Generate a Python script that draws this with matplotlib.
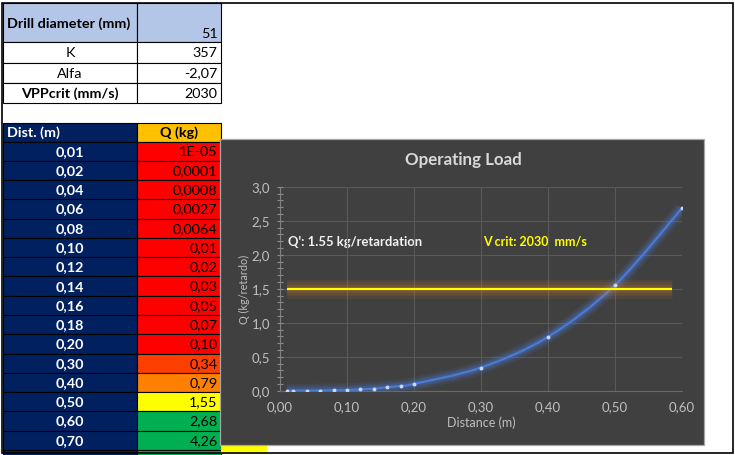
import matplotlib
matplotlib.use("Agg")
import matplotlib.pyplot as plt
import numpy as np
from matplotlib.patches import Rectangle, PathPatch
from matplotlib.path import Path
from matplotlib.ticker import FuncFormatter, MultipleLocator

plt.rcParams['font.family'] = ['Lato', 'DejaVu Sans']

# parameters block
param_labels = ["Drill diameter (mm)", "K", "Alfa", "VPPcrit (mm/s)"]
param_values = ["51", "357", "-2,07", "2030"]
param_bold = [True, False, False, True]

# distance / load table
dist = [0.01, 0.02, 0.04, 0.06, 0.08, 0.10, 0.12, 0.14, 0.16, 0.18, 0.20, 0.30, 0.40, 0.50, 0.60, 0.70]
q_kg = [1e-5, 0.0001, 0.0008, 0.0027, 0.0064, 0.01, 0.02, 0.03, 0.05, 0.07, 0.10, 0.34, 0.79, 1.55, 2.68, 4.26]
q_labels = ["1E-05", "0,0001", "0,0008", "0,0027", "0,0064", "0,01", "0,02", "0,03",
            "0,05", "0,07", "0,10", "0,34", "0,79", "1,55", "2,68", "4,26"]
q_colors = ["#FF0000"] * 11 + ["#FF3F00", "#FF8000", "#FFFF00", "#00B050", "#00B050"]

# chart series (rows up to 0,60)
n_chart = 15
vcrit_x = [0.01, 0.585]
vcrit_q = 1.5
x_ticks = [0.0, 0.1, 0.2, 0.3, 0.4, 0.5, 0.6]
y_ticks = [0.0, 0.5, 1.0, 1.5, 2.0, 2.5, 3.0]

W, H = 735, 455
fig = plt.figure(figsize=(W / 100, H / 100), dpi=100)
bg = fig.add_axes([0, 0, 1, 1])
bg.set_xlim(0, W)
bg.set_ylim(H, 0)
bg.axis('off')

# --- spreadsheet cells ---
cx0, cx1, cx2 = 2.7, 137.3, 220.7
top_edges = [2.7, 42.3, 62.7, 83.3, 103.3]
fs = 10.4
lw_cell = 0.8

for i, (lab, val) in enumerate(zip(param_labels, param_values)):
    y0, y1 = top_edges[i], top_edges[i + 1]
    fc = "#B4C6E7" if i == 0 else "white"
    bg.add_patch(Rectangle((cx0, y0), cx1 - cx0, y1 - y0, fc=fc, ec="black", lw=lw_cell))
    bg.add_patch(Rectangle((cx1, y0), cx2 - cx1, y1 - y0, fc=fc, ec="black", lw=lw_cell))
    w = 'bold' if param_bold[i] else 'normal'
    if i == 0:
        bg.text(cx0 + 4, (y0 + y1) / 2 + 1, lab, ha='left', va='center', fontsize=fs, fontweight=w)
        bg.text(cx2 - 3, y1 - 8, val, ha='right', va='center', fontsize=fs)
    else:
        bg.text((cx0 + cx1) / 2, (y0 + y1) / 2 + 0.5, lab, ha='center', va='center', fontsize=fs, fontweight=w)
        bg.text(cx2 - 3, (y0 + y1) / 2 + 0.5, val, ha='right', va='center', fontsize=fs)

# header row
hy0, hy1 = 122.7, 141.6
bg.add_patch(Rectangle((cx0, hy0), cx1 - cx0, hy1 - hy0, fc="#002060", ec="black", lw=lw_cell))
bg.add_patch(Rectangle((cx1, hy0), cx2 - cx1, hy1 - hy0, fc="#FFC000", ec="black", lw=lw_cell))
bg.text(cx0 + 4, (hy0 + hy1) / 2 + 0.5, "Dist. (m)", ha='left', va='center', fontsize=fs,
        fontweight='bold', color='white')
bg.text((cx1 + cx2) / 2, (hy0 + hy1) / 2 + 0.5, "Q (kg)", ha='center', va='center', fontsize=fs,
        fontweight='bold', color='black')

rh = 19.27
for i, (d, lab, col) in enumerate(zip(dist, q_labels, q_colors)):
    y0 = hy1 + i * rh
    bg.add_patch(Rectangle((cx0, y0), cx1 - cx0, rh, fc="#002060", ec="black", lw=lw_cell))
    bg.add_patch(Rectangle((cx1, y0), cx2 - cx1, rh, fc=col, ec="black", lw=lw_cell))
    bg.text((cx0 + cx1) / 2, y0 + rh / 2 + 0.5, f"{d:.2f}".replace('.', ','), ha='center', va='center',
            fontsize=fs, fontweight='bold', color='white')
    bg.text(cx2 - 3, y0 + rh / 2 + 0.5, lab, ha='right', va='center', fontsize=fs, color='black')
# partly visible next row
y0 = hy1 + len(dist) * rh
bg.add_patch(Rectangle((cx0, y0), cx1 - cx0, rh, fc="#002060", ec="black", lw=lw_cell))
bg.add_patch(Rectangle((cx1, y0), cx2 - cx1, rh, fc="#00B050", ec="black", lw=lw_cell))
bg.add_patch(Rectangle((cx2, 440), 46.5, 14, fc="#FFFF00", ec="none"))

# outer frame
bg.add_patch(Rectangle((2.5, 2.5), 730.5, 450.8, fc="none", ec="black", lw=1.2, zorder=5))

# --- chart panel ---
bg.add_patch(Rectangle((220.5, 138.5), 483.5, 306.5, fc="#404040", ec="#a6a6a6", lw=0.9, zorder=3))
bg.text(463, 160.5, "Operating Load", ha='center', va='center', fontsize=12.2, fontweight='bold',
        color='#d9d9d9', zorder=4)
bg.text(288, 241.7, "Q': 1.55 kg/retardation", ha='left', va='center', fontsize=9.4,
        fontweight='bold', color='#f2f2f2', zorder=4)
bg.text(483, 241.7, "V crit: 2030  mm/s", ha='left', va='center', fontsize=9,
        fontweight='bold', color='#ffff00', zorder=4)
bg.text(244, 289, "Q (kg/retardo)", rotation=90, ha='center', va='center', fontsize=7.8,
        color='#bfbfbf', zorder=4)
bg.text(481, 423, "Distance (m)", ha='center', va='center', fontsize=9,
        color='#bfbfbf', zorder=4)

ax = fig.add_axes([280 / W, 1 - 390.7 / H, 401.7 / W, 204 / H])
ax.set_facecolor('none')
ax.set_xlim(0, 0.6)
ax.set_ylim(0, 3.0)
ax.set_xticks(x_ticks)
ax.set_yticks(y_ticks)
ax.yaxis.set_minor_locator(MultipleLocator(0.1))
ax.xaxis.set_major_formatter(FuncFormatter(lambda v, p: f"{v:.2f}".replace('.', ',')))
ax.yaxis.set_major_formatter(FuncFormatter(lambda v, p: f"{v:.1f}".replace('.', ',')))
ax.grid(True, which='major', color='#595959', lw=0.8)
ax.set_axisbelow(True)
for s in ['top', 'right']:
    ax.spines[s].set_visible(False)
ax.spines['left'].set_color('#808080')
ax.spines['bottom'].set_color('#6a6a6a')
ax.tick_params(axis='y', which='both', direction='inout', length=5, width=0.8,
               color='#8c8c8c', labelcolor='#bfbfbf', labelsize=9.5, pad=4.5)
ax.tick_params(axis='x', which='both', length=0, labelcolor='#bfbfbf', labelsize=9.5, pad=7.5)

# critical load line with glow
for lw_g, a in [(14, 0.10), (10, 0.12), (6, 0.15)]:
    ax.plot(vcrit_x, [vcrit_q, vcrit_q], color='#d9822b', lw=lw_g, alpha=a, solid_capstyle='butt')
ax.plot(vcrit_x, [vcrit_q, vcrit_q], color='#ffff00', lw=1.6, solid_capstyle='butt')


def smooth_path(xs, ys):
    pts = np.column_stack([xs, ys])
    n = len(pts)
    verts = [pts[0]]
    codes = [Path.MOVETO]
    for i in range(n - 1):
        p0 = pts[max(i - 1, 0)]
        p1, p2 = pts[i], pts[i + 1]
        p3 = pts[min(i + 2, n - 1)]
        verts += [p1 + (p2 - p0) / 6, p2 - (p3 - p1) / 6, p2]
        codes += [Path.CURVE4] * 3
    return Path(verts, codes)


curve = smooth_path(dist[:n_chart], q_kg[:n_chart])
for lw_g, a in [(10, 0.10), (7, 0.14), (4.5, 0.22)]:
    ax.add_patch(PathPatch(curve, fc='none', ec='#4a7fe0', lw=lw_g, alpha=a))
ax.add_patch(PathPatch(curve, fc='none', ec='#4a7ad6', lw=1.6))
ax.plot(dist[:n_chart], q_kg[:n_chart], ls='none', marker='o', ms=2.8, mfc='#c9d8f2',
        mec='none', zorder=5)

fig.savefig("out.png", dpi=100)
